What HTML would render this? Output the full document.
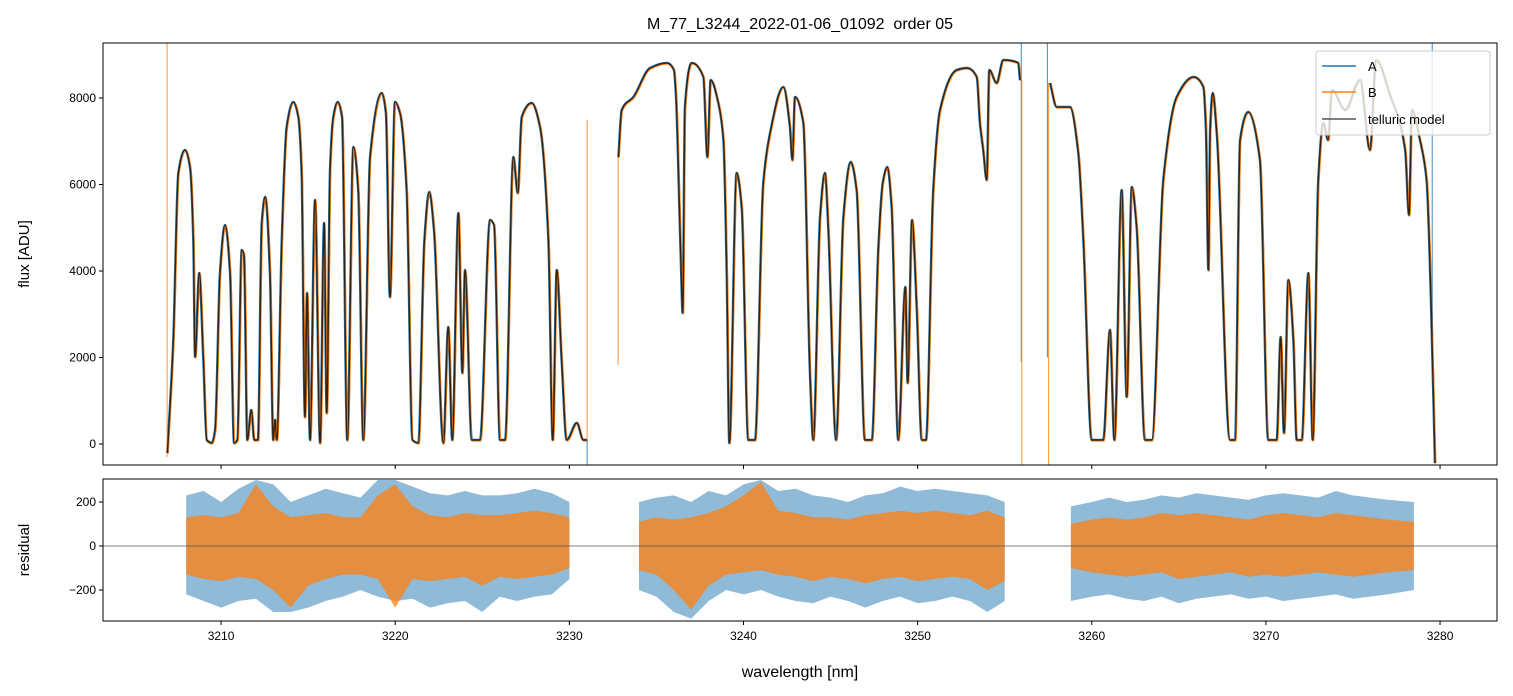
<!DOCTYPE html>
<html><head><meta charset="utf-8">
<style>
html,body{margin:0;padding:0;background:#fff;}
svg{display:block;font-family:"Liberation Sans","DejaVu Sans",sans-serif;}
</style></head>
<body>
<svg id="fig" width="1513" height="696" xmlns="http://www.w3.org/2000/svg">
<defs>
<clipPath id="clipTop"><rect x="103" y="43" width="1394" height="422"/></clipPath>
<clipPath id="clipBot"><rect x="103" y="479" width="1394" height="142"/></clipPath>
</defs>
<rect x="0" y="0" width="1513" height="696" fill="#fff"/>
<text x="800" y="29" text-anchor="middle" font-size="16" fill="#000" style="white-space:pre">M_77_L3244_2022-01-06_01092  order 05</text>
<g id="topPanel"></g>
<g id="botPanel"></g>
<text transform="translate(29,254) rotate(-90)" text-anchor="middle" font-size="15">flux [ADU]</text>
<text transform="translate(29,550) rotate(-90)" text-anchor="middle" font-size="15">residual</text>
<text x="800" y="677" text-anchor="middle" font-size="16">wavelength [nm]</text>
<g>
<rect x="1316" y="51" width="174" height="84" rx="3" fill="#fff" fill-opacity="0.8" stroke="#ccc" stroke-width="1"/>
<line x1="1322" y1="66" x2="1356" y2="66" stroke="#1f77b4" stroke-width="1.5"/>
<text x="1368" y="71" font-size="13">A</text>
<line x1="1322" y1="92" x2="1356" y2="92" stroke="#ff7f0e" stroke-width="1.5"/>
<text x="1368" y="97" font-size="13">B</text>
<line x1="1322" y1="119" x2="1356" y2="119" stroke="#555" stroke-width="1.5"/>
<text x="1368" y="124" font-size="13">telluric model</text>
</g>
</svg>
<script>
// ---- data ----
const xTicks=[3210,3220,3230,3240,3250,3260,3270,3280];
const fluxTicks=[0,2000,4000,6000,8000];
const resTicks=[-200,0,200];
const modelWave=[
3206.92,3207.26,3207.55,3207.93,3208.22,3208.41,3208.51,3208.75,3208.98,3209.18,3209.47,3209.66,3209.94,3210.23,3210.52,3210.75,3210.94,3211.19,3211.32,3211.51,3211.74,3211.91,3212.12,3212.34,3212.54,3212.81,3213.00,3213.10,3213.20,3213.49,3213.77,3214.15,3214.44,3214.63,3214.82,3214.94,3215.11,3215.40,3215.69,3215.92,3216.07,3216.26,3216.45,3216.70,3216.95,3217.25,3217.60,3217.88,3218.17,3218.56,3219.23,3219.47,3219.70,3219.99,3220.28,3220.66,3220.99,3221.33,3221.68,3221.96,3222.23,3222.77,3223.05,3223.28,3223.63,3223.86,3224.01,3224.40,3224.87,3225.45,3225.68,3226.02,3226.31,3226.79,3227.04,3227.27,3227.84,3228.32,3228.80,3229.05,3229.28,3229.56,3229.85,3230.43,3230.81,3231.02,
null,
3232.82,3233.01,3233.68,3234.64,3235.59,3236.01,3236.13,3236.32,3236.42,3236.51,3236.64,3237.03,3237.70,3237.93,3238.12,3238.56,3238.85,3239.04,3239.19,3239.61,3239.90,3240.28,3240.66,3241.14,3241.53,3242.29,3242.67,3242.81,3242.96,3243.44,3243.82,3244.01,3244.40,3244.68,3244.87,3245.32,3245.74,3246.16,3246.50,3246.98,3247.37,3247.75,3248.00,3248.26,3248.51,3248.89,3249.30,3249.43,3249.68,3249.95,3250.24,3250.48,3250.90,3251.29,3252.25,3252.82,3253.40,3253.58,3253.77,3253.97,3254.12,3254.54,3254.92,3255.78,3255.88,
null,
3257.61,3257.99,3258.75,3259.23,3259.52,3260.00,3260.66,3261.05,3261.30,3261.72,3262.01,3262.30,3262.58,3263.06,3263.45,3264.11,3264.88,3265.84,3266.41,3266.56,3266.70,3266.80,3266.95,3267.18,3267.94,3268.23,3268.52,3268.99,3269.66,3270.14,3270.62,3270.85,3271.04,3271.29,3271.58,3271.77,3272.06,3272.44,3272.69,3273.01,3273.30,3273.57,3273.80,3274.55,3275.41,3275.98,3276.33,3277.13,3278.00,3278.22,3278.39,3278.85,3279.23,3279.48,3279.71];
const modelFlux=[
-208,2404,6266,6798,6404,4716,2011,3954,2011,92,23,324,3954,5063,3954,23,92,4485,4370,92,786,92,92,5110,5711,3954,92,555,92,4716,7329,7907,7560,6266,624,3491,92,5641,23,5110,717,6335,7560,7907,7560,92,6867,5872,92,6635,8115,7653,3399,7907,7653,5872,92,23,4716,5826,4948,23,2705,92,5341,1642,4023,92,92,5179,5063,92,92,6635,5803,7560,7884,7329,4716,92,4023,1942,92,486,92,92,
null,
6635,7722,8023,8693,8809,8647,8023,5479,4023,3029,7791,8809,8485,6635,8416,7884,7028,3954,23,6266,5479,92,92,6034,7190,8254,7329,6566,8023,7422,1642,92,5248,6266,5017,92,5248,6520,5872,92,92,4555,6034,6404,5479,92,3630,1410,5179,3167,92,92,5872,7722,8647,8693,8485,7422,6797,6104,8647,8346,8878,8809,8416,
null,
8346,7791,7791,6728,4716,92,92,2636,92,5872,1087,5942,5017,92,92,6104,8023,8485,8254,7260,4023,7260,8115,7190,92,92,7028,7676,6566,92,92,2474,254,3792,2404,92,92,3954,92,6104,7422,7028,8184,7722,8416,6797,8878,8069,6797,5294,7722,7028,6104,3329,-439];
// detector edge spikes
const edgeWave=[3206.90,3231.02,3231.02,3232.80,3255.95,3255.98,3257.45,3257.52,3279.55];
const edgeFrom=[9300,92,92,6635,9300,8416,9300,8346,9300];
const edgeTo=[-300,7490,-600,1830,1900,-600,2000,-600,2500];
const edgeSeries=["B","B","A","B","A","B","A","B","A"];
// residual envelopes (per nm)
const resWave=[3208,3209,3210,3211,3212,3213,3214,3215,3216,3217,3218,3219,3220,3221,3222,3223,3224,3225,3226,3227,3228,3229,3230,null,
3234,3235,3236,3237,3238,3239,3240,3241,3242,3243,3244,3245,3246,3247,3248,3249,3250,3251,3252,3253,3254,3255,null,
3258.8,3260,3261,3262,3263,3264,3265,3266,3267,3268,3269,3270,3271,3272,3273,3274,3275,3276,3277,3278.5];
const resAHi=[230,250,200,260,300,280,200,230,260,240,220,300,300,270,240,230,250,230,230,240,260,240,200,null,
200,220,230,200,250,230,280,300,250,260,230,220,200,230,240,270,250,260,250,240,230,200,null,
180,200,220,200,210,230,220,240,230,220,210,230,240,230,220,250,230,220,210,200];
const resALo=[-220,-250,-280,-250,-240,-300,-300,-280,-250,-230,-200,-230,-250,-240,-280,-260,-250,-300,-230,-250,-230,-220,-150,null,
-200,-230,-300,-330,-250,-200,-220,-200,-230,-250,-260,-230,-250,-280,-250,-230,-260,-250,-230,-250,-300,-250,null,
-250,-230,-220,-240,-250,-230,-260,-240,-230,-220,-240,-230,-250,-240,-230,-220,-240,-230,-220,-200];
const resBHi=[130,140,130,150,280,180,130,140,150,130,130,230,280,180,140,130,150,140,140,150,160,150,130,null,
110,130,120,130,150,180,230,290,160,150,130,130,120,140,150,160,150,160,150,140,160,130,null,
100,120,130,120,130,150,140,150,140,130,120,140,150,140,130,150,140,130,120,110];
const resBLo=[-130,-150,-160,-140,-150,-200,-280,-180,-150,-130,-130,-150,-280,-150,-160,-150,-140,-180,-140,-150,-140,-130,-100,null,
-110,-130,-200,-290,-180,-130,-120,-110,-130,-140,-160,-140,-150,-170,-150,-140,-160,-150,-140,-150,-200,-160,null,
-100,-120,-130,-140,-130,-120,-150,-140,-130,-120,-140,-130,-140,-130,-120,-130,-140,-130,-120,-110];

// ---- scales ----
const X0=103,X1=1497,W0=3203.22,W1=3283.27;
const sx=w=>X0+(w-W0)/(W1-W0)*(X1-X0);
const TY0=43,TY1=465,F0=-486,F1=9272;
const syT=f=>TY1-(f-F0)/(F1-F0)*(TY1-TY0);
const BY0=479,BY1=621,R0=-341,R1=304.5;
const syB=r=>BY1-(r-R0)/(R1-R0)*(BY1-BY0);
const NS="http://www.w3.org/2000/svg";
function mk(tag,attrs,parent){const e=document.createElementNS(NS,tag);for(const k in attrs)e.setAttribute(k,attrs[k]);parent.appendChild(e);return e;}
const topG=document.getElementById('topPanel'),botG=document.getElementById('botPanel');

// monotone cubic path through one run of pixel points
function monoPath(P){
  const n=P.length; if(n<2) return "";
  const h=[],d=[];
  for(let i=0;i<n-1;i++){h.push(P[i+1][0]-P[i][0]||0.01);d.push((P[i+1][1]-P[i][1])/(h[i]));}
  const m=new Array(n);
  m[0]=d[0];m[n-1]=d[n-2];
  for(let i=1;i<n-1;i++){
    if(d[i-1]*d[i]<=0){m[i]=0;}
    else{const h0=h[i-1],h1=h[i];m[i]=3*(h0+h1)/((2*h1+h0)/d[i-1]+(h1+2*h0)/d[i]);}
  }
  let s="M"+P[0][0].toFixed(2)+","+P[0][1].toFixed(2);
  for(let i=0;i<n-1;i++){
    const hh=h[i]/3;
    s+="C"+(P[i][0]+hh).toFixed(2)+","+(P[i][1]+m[i]*hh).toFixed(2)+" "+(P[i+1][0]-hh).toFixed(2)+","+(P[i+1][1]-m[i+1]*hh).toFixed(2)+" "+P[i+1][0].toFixed(2)+","+P[i+1][1].toFixed(2);
  }
  return s;
}
function smoothPaths(wv,vals,sy){
  let d="",run=[];
  for(let i=0;i<=wv.length;i++){
    if(i===wv.length||wv[i]===null){d+=monoPath(run);run=[];continue;}
    run.push([sx(wv[i]),sy(vals[i])]);
  }
  return d;
}

// ---- top panel ----
const gT=mk('g',{'clip-path':'url(#clipTop)'},topG);
const pathD=smoothPaths(modelWave,modelFlux,syT);
const lineA=mk('path',{d:pathD,fill:'none',stroke:'#1f77b4','stroke-width':2.6,'stroke-linejoin':'round'},gT);


const lineB=mk('path',{d:pathD,fill:'none',stroke:'#ff7f0e','stroke-width':2.0,'stroke-linejoin':'round',transform:'translate(0.4,0.6)'},gT);


for(let i=0;i<edgeWave.length;i++){
  const e=mk('line',{x1:sx(edgeWave[i]),x2:sx(edgeWave[i]),y1:syT(edgeFrom[i]),y2:syT(edgeTo[i]),stroke:edgeSeries[i]==="A"?'#1f77b4':'#ff7f0e','stroke-width':1,'stroke-opacity':0.85},gT);
  
  
}
const lineM=mk('path',{d:pathD,fill:'none',stroke:'#1a1a1a','stroke-width':1.4,'stroke-opacity':0.9,'stroke-linejoin':'round'},gT);


mk('rect',{x:X0,y:TY0,width:X1-X0,height:TY1-TY0,fill:'none',stroke:'#000','stroke-width':1},topG);
for(const t of fluxTicks){const y=syT(t);mk('line',{x1:X0-4,x2:X0,y1:y,y2:y,stroke:'#000'},topG);
  const tx=mk('text',{x:X0-7,y:y+4,'text-anchor':'end','font-size':12},topG);tx.textContent=t;
  
  }
for(const t of xTicks){const x=sx(t);mk('line',{x1:x,x2:x,y1:TY1,y2:TY1+4,stroke:'#000'},topG);}

// ---- bottom panel ----
const gB=mk('g',{'clip-path':'url(#clipBot)'},botG);
function band(hi,lo){let d="",start=0;for(let i=0;i<=resWave.length;i++){if(i===resWave.length||resWave[i]===null){let s="";for(let j=start;j<i;j++)s+=(j===start?"M":"L")+sx(resWave[j]).toFixed(1)+","+syB(hi[j]).toFixed(1);for(let j=i-1;j>=start;j--)s+="L"+sx(resWave[j]).toFixed(1)+","+syB(lo[j]).toFixed(1);d+=s+"Z";start=i+1;}}return d;}
const bandA=mk('path',{d:band(resAHi,resALo),fill:'#1f77b4','fill-opacity':0.5},gB);


const bandB=mk('path',{d:band(resBHi,resBLo),fill:'#ff7f0e','fill-opacity':0.75},gB);


const zl=mk('line',{x1:X0,x2:X1,y1:syB(0),y2:syB(0),stroke:'#555','stroke-width':0.8},botG);


mk('rect',{x:X0,y:BY0,width:X1-X0,height:BY1-BY0,fill:'none',stroke:'#000','stroke-width':1},botG);
for(const t of resTicks){const y=syB(t);mk('line',{x1:X0-4,x2:X0,y1:y,y2:y,stroke:'#000'},botG);
  const tx=mk('text',{x:X0-7,y:y+4,'text-anchor':'end','font-size':12},botG);tx.textContent=t===-200?'\u2212200':t;
  
  }
for(const t of xTicks){const x=sx(t);mk('line',{x1:x,x2:x,y1:BY1,y2:BY1+4,stroke:'#000'},botG);
  const tx=mk('text',{x:x,y:BY1+19,'text-anchor':'middle','font-size':12},botG);tx.textContent=t;
  
  }
</script>
</body></html>
